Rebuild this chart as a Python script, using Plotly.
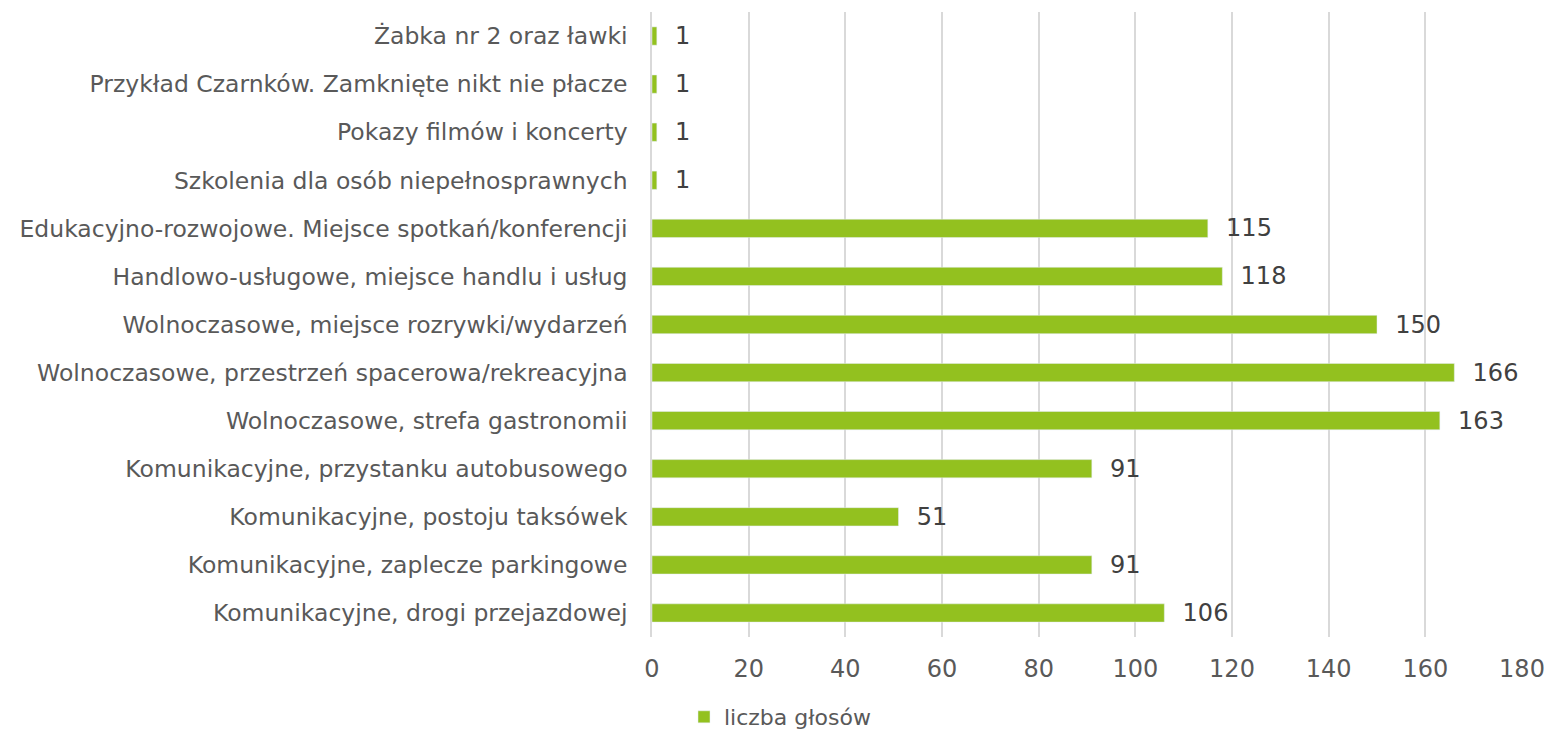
import plotly.graph_objects as go

GREEN = "#93C11F"
TXT = "#595959"
GRID = "#D9D9D9"

categories = [
    "Komunikacyjne, drogi przejazdowej",
    "Komunikacyjne, zaplecze parkingowe",
    "Komunikacyjne, postoju taksówek",
    "Komunikacyjne, przystanku autobusowego",
    "Wolnoczasowe, strefa gastronomii",
    "Wolnoczasowe, przestrzeń spacerowa/rekreacyjna",
    "Wolnoczasowe, miejsce rozrywki/wydarzeń",
    "Handlowo-usługowe, miejsce handlu i usług",
    "Edukacyjno-rozwojowe. Miejsce spotkań/konferencji",
    "Szkolenia dla osób niepełnosprawnych",
    "Pokazy filmów i koncerty",
    "Przykład Czarnków. Zamknięte nikt nie płacze",
    "Żabka nr 2 oraz ławki",
]
votes = [106, 91, 51, 91, 163, 166, 150, 118, 115, 1, 1, 1, 1]
x_ticks = [0, 20, 40, 60, 80, 100, 120, 140, 160, 180]

FONT = "DejaVu Sans, Liberation Sans, Arial"

fig = go.Figure(go.Bar(
    y=categories, x=votes, orientation="h",
    marker_color=GREEN, width=0.38,
    text=[f"  {v}" for v in votes], textposition="outside",
    textfont=dict(size=24, color="#404040", family=FONT),
    constraintext="none", cliponaxis=False,
    name="liczba głosów", showlegend=True,
))

fig.update_layout(
    width=1544, height=730,
    plot_bgcolor="white", paper_bgcolor="white",
    font=dict(family=FONT, color=TXT, size=22),
    margin=dict(l=644, r=30, t=4, b=101),
    legend=dict(orientation="h", x=0.5, xanchor="center", xref="container",
                y=-0.008, yanchor="bottom", yref="container",
                font=dict(size=22, color=TXT), itemwidth=30),
    bargap=0.62,
)
fig.update_xaxes(range=[0, 180], tickvals=x_ticks, showgrid=True, gridcolor=GRID, gridwidth=1.5,
                 zeroline=False, showline=False, tickfont=dict(size=24, color=TXT), ticks="",
                 ticklabelstandoff=15)
fig.update_yaxes(showgrid=False, zeroline=False, showline=True, linecolor=GRID, linewidth=1.5,
                 ticks="", tickfont=dict(size=23.5, color=TXT), ticklabelstandoff=18)

fig.write_html("out.html")
